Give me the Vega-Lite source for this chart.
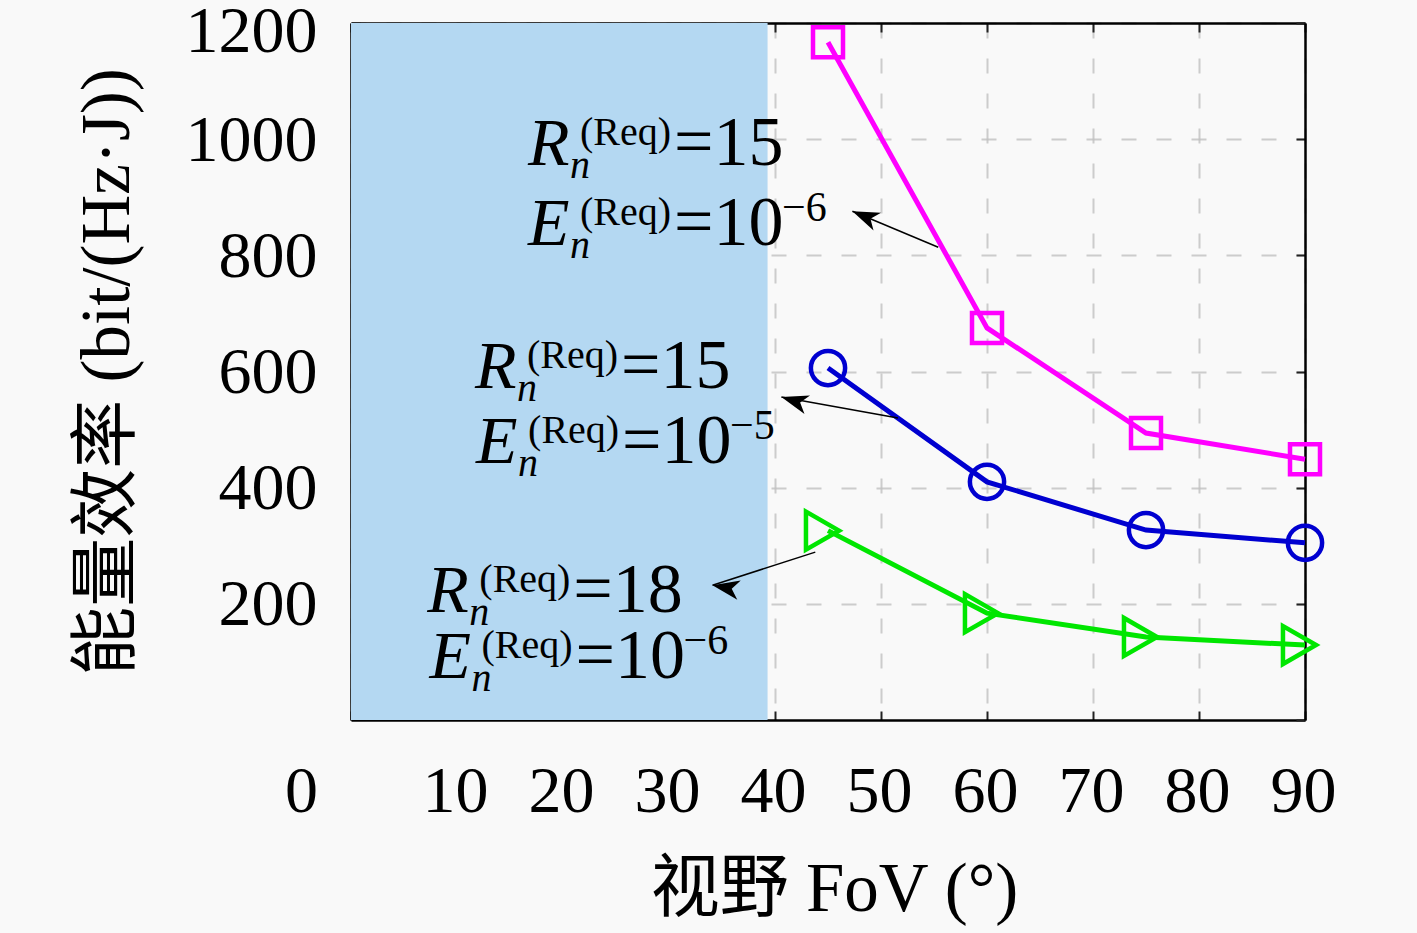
{
  "$schema": "https://vega.github.io/schema/vega-lite/v6.json",
  "autosize": "none",
  "width": 954,
  "height": 697,
  "padding": {"left": 351, "top": 23, "right": 112, "bottom": 213},
  "background": "#f9f9f9",
  "view": {"stroke": null, "fill": "#f9f9f9"},
  "config": {
    "font": "Liberation Serif",
    "axis": {
      "labelFont": "Liberation Serif",
      "labelFontSize": 66,
      "labelColor": "black",
      "titleFont": "Liberation Serif, Noto Sans CJK SC",
      "titleFontSize": 69,
      "titleFontWeight": "normal",
      "titleColor": "black",
      "domainColor": "black",
      "domainWidth": 2.5,
      "tickColor": "#222222",
      "tickWidth": 2,
      "tickSize": -9,
      "zindex": 1
    }
  },
  "datasets": {
    "shade": [{"xs": 0, "xe": 39.3, "ys": 0, "ye": 1200}],
    "series": [
      {"fov": 45, "eff": 1167, "s": "m"},
      {"fov": 60, "eff": 675, "s": "m"},
      {"fov": 75, "eff": 494, "s": "m"},
      {"fov": 90, "eff": 449, "s": "m"},
      {"fov": 45, "eff": 606, "s": "b"},
      {"fov": 60, "eff": 410, "s": "b"},
      {"fov": 75, "eff": 327, "s": "b"},
      {"fov": 90, "eff": 305, "s": "b"},
      {"fov": 45, "eff": 326, "s": "g"},
      {"fov": 60, "eff": 184, "s": "g"},
      {"fov": 75, "eff": 143, "s": "g"},
      {"fov": 90, "eff": 129, "s": "g"}
    ],
    "arrows": [
      {"id": "a", "x1": 55.4, "y1": 814, "x2": 47.3, "y2": 876},
      {"id": "b", "x1": 51.6, "y1": 520, "x2": 40.6, "y2": 556},
      {"id": "c", "x1": 43.8, "y1": 289, "x2": 34.1, "y2": 232}
    ],
    "notes": [
      {"x": 16.7, "y": 955.6, "sym": "R", "rhs": "=15", "exp": ""},
      {"x": 16.7, "y": 817.8, "sym": "E", "rhs": "=10", "exp": "−6"},
      {"x": 11.7, "y": 571.6, "sym": "R", "rhs": "=15", "exp": ""},
      {"x": 11.8, "y": 442.5, "sym": "E", "rhs": "=10", "exp": "−5"},
      {"x": 7.2, "y": 186, "sym": "R", "rhs": "=18", "exp": ""},
      {"x": 7.4, "y": 72.3, "sym": "E", "rhs": "=10", "exp": "−6"}
    ]
  },
  "layer": [
    {
      "data": {"name": "shade"},
      "mark": {"type": "rect", "color": "#b4d8f2"},
      "encoding": {
        "x": {
          "field": "xs", "type": "quantitative",
          "scale": {"domain": [0, 90], "nice": false, "zero": false},
          "axis": {
            "orient": "bottom",
            "values": [0, 10, 20, 30, 40, 50, 60, 70, 80, 90],
            "title": "视野 FoV (°)",
            "titleX": 483,
            "titleY": 190,
            "titleBaseline": "alphabetic",
            "labelBaseline": "alphabetic",
            "labelPadding": 100,
            "labelOffset": {"condition": {"test": "datum.value === 0", "value": -50}, "value": -2},
            "labelFlush": false,
            "grid": true,
            "gridColor": "#c0c0c0",
            "gridOpacity": 0.8,
            "gridWidth": 2,
            "gridDash": [15, 20]
          }
        },
        "x2": {"field": "xe"},
        "y": {
          "field": "ys", "type": "quantitative",
          "scale": {"domain": [0, 1200], "nice": false},
          "axis": {
            "orient": "left",
            "values": [200, 400, 600, 800, 1000, 1200],
            "format": "d",
            "title": "能量效率 (bit/(Hz·J))",
            "titleX": -223,
            "titleY": 348.5,
            "titleAngle": -90,
            "titleAlign": "center",
            "titleBaseline": "alphabetic",
            "labelPadding": 43,
            "labelOffset": {"condition": {"test": "datum.value === 1200", "value": 8}, "value": 1},
            "labelFlush": false,
            "grid": true,
            "gridColor": "#c0c0c0",
            "gridOpacity": 0.8,
            "gridWidth": 2,
            "gridDash": [15, 20]
          }
        },
        "y2": {"field": "ye"}
      }
    },
    {
      "data": {"name": "series"},
      "mark": {"type": "line", "strokeWidth": 5},
      "encoding": {
        "x": {
          "field": "fov", "type": "quantitative",
          "scale": {"domain": [0, 90], "nice": false, "zero": false},
          "axis": {"orient": "top", "values": [0, 10, 20, 30, 40, 50, 60, 70, 80, 90], "labels": false, "title": null, "grid": false}
        },
        "y": {
          "field": "eff", "type": "quantitative",
          "scale": {"domain": [0, 1200], "nice": false},
          "axis": {"orient": "right", "values": [0, 200, 400, 600, 800, 1000, 1200], "labels": false, "title": null, "grid": false}
        },
        "color": {
          "field": "s", "type": "nominal",
          "scale": {"domain": ["m", "b", "g"], "range": ["#ff00ff", "#0000d0", "#00e600"]},
          "legend": null
        }
      }
    },
    {
      "data": {"name": "series"},
      "mark": {"type": "point", "filled": false, "strokeWidth": 4.5, "opacity": 1},
      "encoding": {
        "x": {"field": "fov", "type": "quantitative", "axis": null},
        "y": {"field": "eff", "type": "quantitative", "axis": null},
        "color": {
          "field": "s", "type": "nominal",
          "scale": {"domain": ["m", "b", "g"], "range": ["#ff00ff", "#0000d0", "#00e600"]},
          "legend": null
        },
        "shape": {
          "field": "s", "type": "nominal",
          "scale": {"domain": ["m", "b", "g"], "range": ["square", "circle", "M0.58,0L-1.16,-1L-1.16,1Z"]},
          "legend": null
        },
        "size": {
          "field": "s", "type": "ordinal",
          "scale": {"domain": ["m", "b", "g"], "range": [900, 1444, 2025]},
          "legend": null
        }
      }
    },
    {
      "data": {"name": "arrows"},
      "mark": {"type": "rule", "color": "black", "strokeWidth": 1.5},
      "encoding": {
        "x": {"field": "x1", "type": "quantitative", "axis": null},
        "y": {"field": "y1", "type": "quantitative", "axis": null},
        "x2": {"field": "x2"},
        "y2": {"field": "y2"}
      }
    },
    {
      "data": {"name": "arrows"},
      "mark": {"type": "point", "filled": true, "color": "black", "opacity": 1, "shape": "M0,0L2,-0.72L1.45,0L2,0.72Z", "size": 729},
      "encoding": {
        "x": {"field": "x2", "type": "quantitative", "axis": null},
        "y": {"field": "y2", "type": "quantitative", "axis": null},
        "angle": {
          "field": "id", "type": "ordinal",
          "scale": {"domain": ["a", "b", "c"], "range": [22.7, 10.3, 342.2]},
          "legend": null
        }
      }
    },
    {
      "data": {"name": "notes"},
      "encoding": {
        "x": {"field": "x", "type": "quantitative", "axis": null},
        "y": {"field": "y", "type": "quantitative", "axis": null}
      },
      "layer": [
        {
          "mark": {"type": "text", "align": "left", "baseline": "alphabetic", "fontSize": 68, "fontStyle": "italic", "font": "Liberation Serif", "color": "black"},
          "encoding": {"text": {"field": "sym"}}
        },
        {
          "mark": {"type": "text", "align": "left", "baseline": "alphabetic", "fontSize": 40, "font": "Liberation Serif", "color": "black", "dx": 52, "dy": -20, "text": "(Req)"}
        },
        {
          "mark": {"type": "text", "align": "left", "baseline": "alphabetic", "fontSize": 40, "fontStyle": "italic", "font": "Liberation Serif", "color": "black", "dx": 42, "dy": 13, "text": "n"}
        },
        {
          "mark": {"type": "text", "align": "left", "baseline": "alphabetic", "fontSize": 70, "font": "Liberation Serif", "color": "black", "dx": 146},
          "encoding": {"text": {"field": "rhs"}}
        },
        {
          "mark": {"type": "text", "align": "left", "baseline": "alphabetic", "fontSize": 42, "font": "Liberation Serif", "color": "black", "dx": 254, "dy": -24},
          "encoding": {"text": {"field": "exp"}}
        }
      ]
    }
  ],
  "resolve": {"axis": {"x": "independent", "y": "independent"}}
}
